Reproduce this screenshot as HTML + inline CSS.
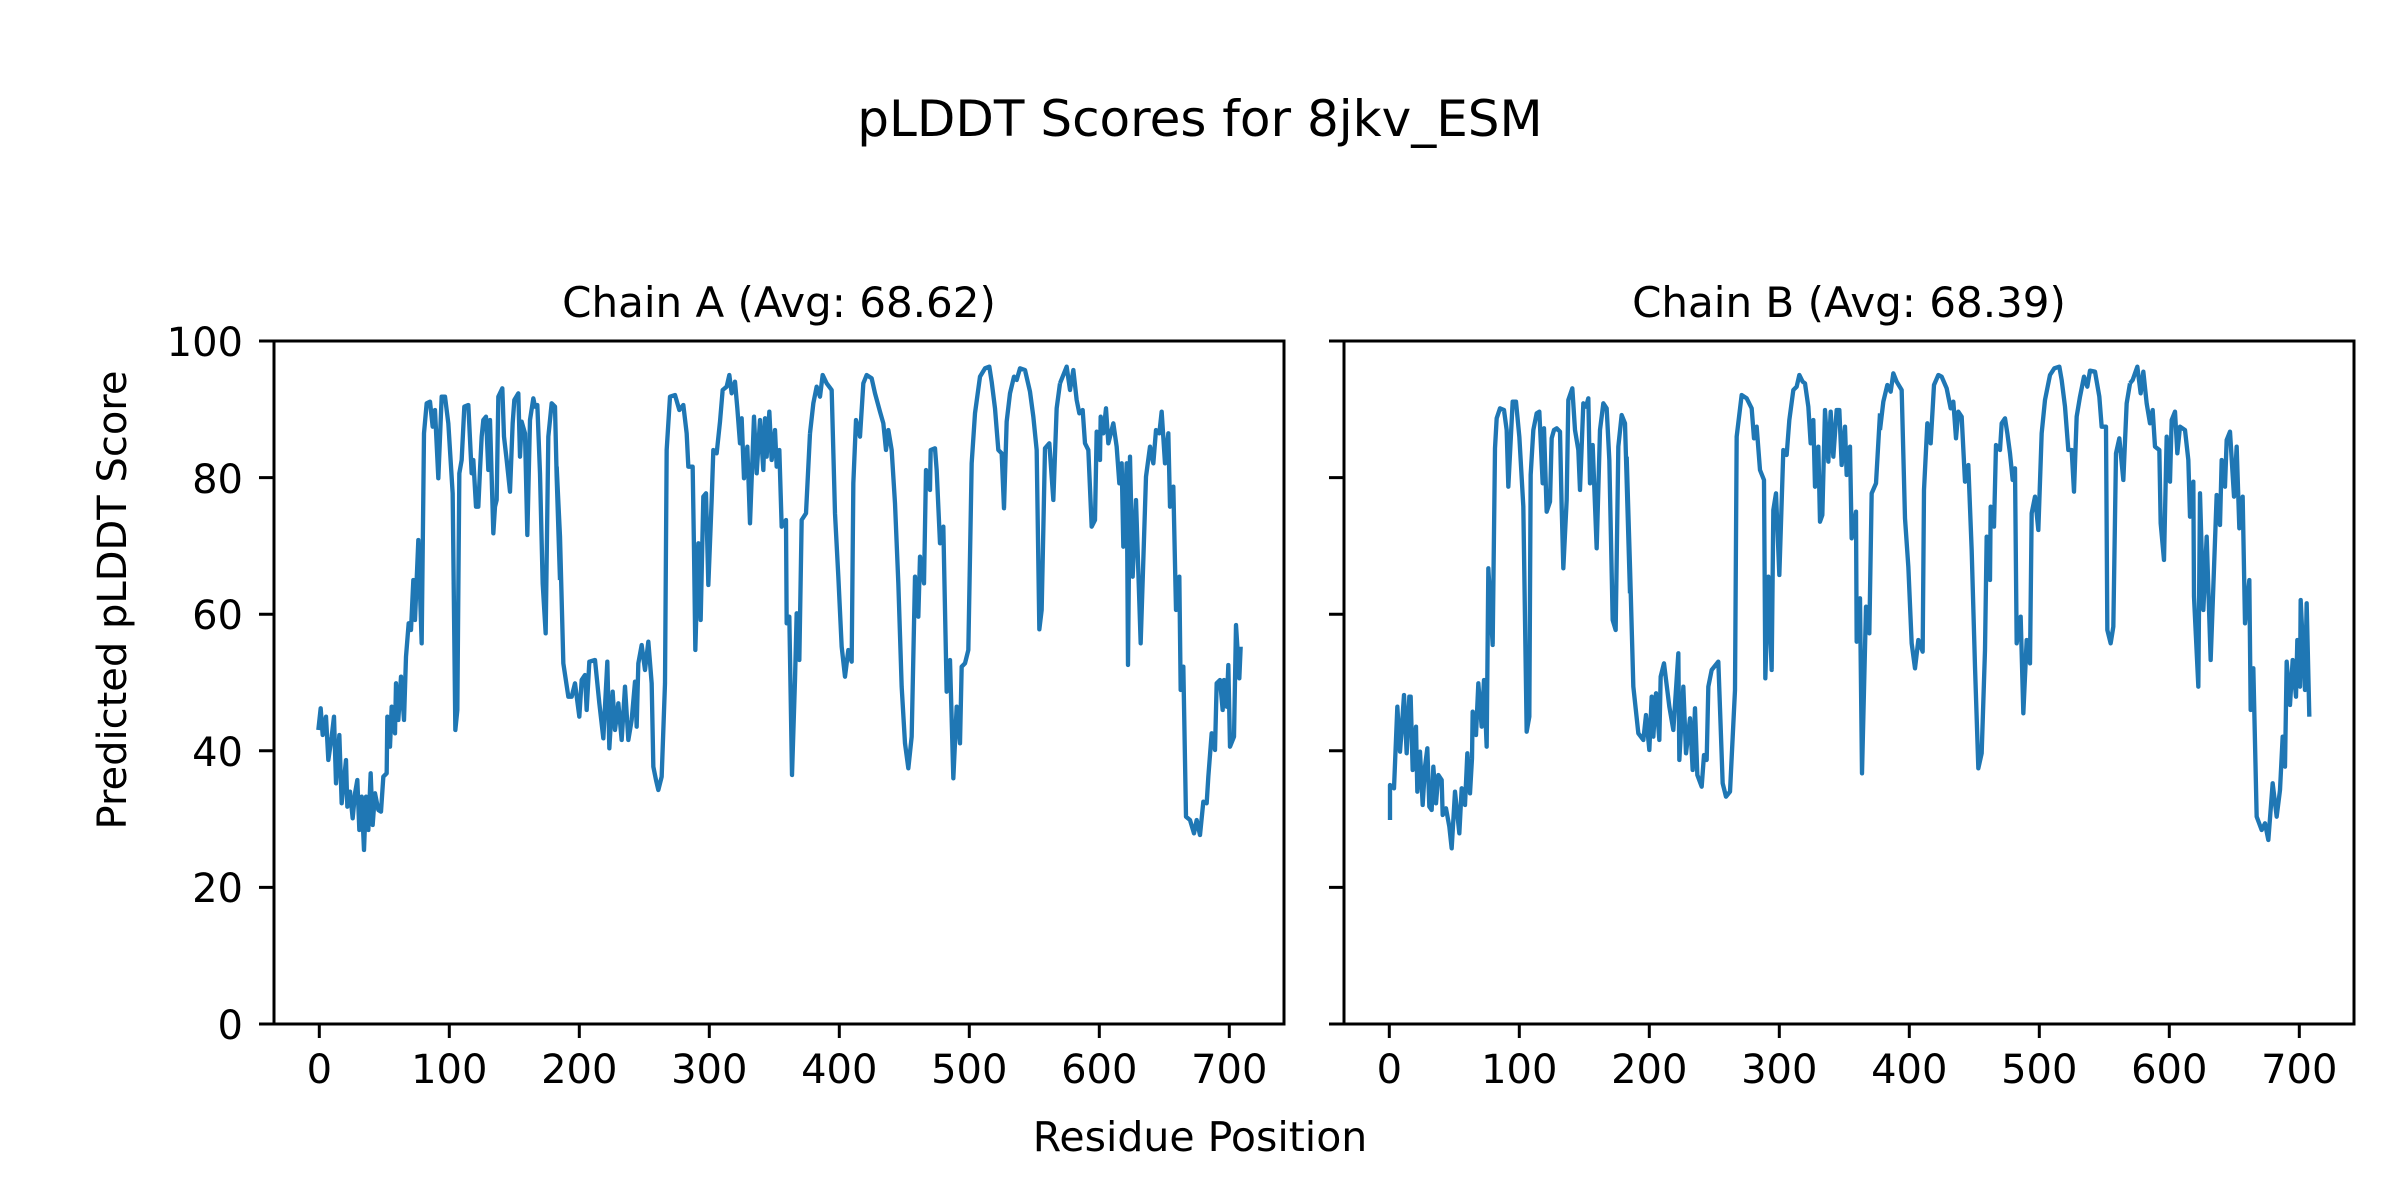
<!DOCTYPE html>
<html><head><meta charset="utf-8"><style>html,body{margin:0;padding:0;background:#fff}svg{display:block}</style></head>
<body>
<svg width="2400" height="1200" viewBox="0 0 2400 1200" xmlns="http://www.w3.org/2000/svg" font-family="DejaVu Sans, Liberation Sans, sans-serif">
<rect width="2400" height="1200" fill="#fff"/>
<text x="1200" y="136" font-size="50" text-anchor="middle">pLDDT Scores for 8jkv_ESM</text>
<text x="779" y="317" font-size="42" text-anchor="middle">Chain A (Avg: 68.62)</text>
<text x="1849" y="317" font-size="42" text-anchor="middle">Chain B (Avg: 68.39)</text>
<text x="1200" y="1151" font-size="41" text-anchor="middle">Residue Position</text>
<text transform="translate(126,600) rotate(-90)" font-size="40" text-anchor="middle">Predicted pLDDT Score</text>

<g stroke="#000" stroke-width="3" fill="none">
<rect x="274" y="341" width="1010" height="683"/>
<rect x="1344" y="341" width="1010" height="683"/>
<path d="M259 1024H274M259 887.4H274M259 750.8H274M259 614.2H274M259 477.6H274M259 341H274"/>
<path d="M1329 1024H1344M1329 887.4H1344M1329 750.8H1344M1329 614.2H1344M1329 477.6H1344M1329 341H1344"/>
<path d="M319.3 1024v14M449.3 1024v14M579.3 1024v14M709.3 1024v14M839.3 1024v14M969.3 1024v14M1099.3 1024v14M1229.3 1024v14"/>
<path d="M1389.3 1024v14M1519.3 1024v14M1649.3 1024v14M1779.3 1024v14M1909.3 1024v14M2039.3 1024v14M2169.3 1024v14M2299.3 1024v14"/>
</g>
<g font-size="40" text-anchor="end">
<text x="243" y="1039">0</text><text x="243" y="902">20</text><text x="243" y="766">40</text><text x="243" y="629">60</text><text x="243" y="493">80</text><text x="243" y="356">100</text>
</g>
<g font-size="40" text-anchor="middle">
<text x="319.3" y="1083">0</text><text x="449.3" y="1083">100</text><text x="579.3" y="1083">200</text><text x="709.3" y="1083">300</text><text x="839.3" y="1083">400</text><text x="969.3" y="1083">500</text><text x="1099.3" y="1083">600</text><text x="1229.3" y="1083">700</text>
<text x="1389.3" y="1083">0</text><text x="1519.3" y="1083">100</text><text x="1649.3" y="1083">200</text><text x="1779.3" y="1083">300</text><text x="1909.3" y="1083">400</text><text x="2039.3" y="1083">500</text><text x="2169.3" y="1083">600</text><text x="2299.3" y="1083">700</text>
</g>

<g fill="none" stroke="#1f77b4" stroke-width="13" stroke-linejoin="round">
<polyline transform="translate(300,350) scale(0.33333)" points="55,1140 62,1075 68,1155 78,1100 85,1230 95,1160 102,1100 108,1300 118,1155 125,1360 138,1230 142,1370 150,1325 158,1405 165,1330 172,1290 178,1440 185,1340 192,1500 198,1340 205,1440 212,1270 218,1425 225,1330 235,1380 243,1385 250,1280 260,1270 262,1100 270,1190 275,1070 285,1150 288,1000 295,1110 303,980 312,1110 318,920 326,820 333,840 340,690 345,810 355,570 365,880 372,250 380,160 390,155 398,230 405,180 415,385 425,140 435,140 445,220 458,430 466,1140 472,1080 478,370 485,330 493,170 505,165 515,370 520,330 528,470 535,470 540,360 545,260 550,210 558,200 565,360 570,210 580,550 585,470 590,450 595,140 607,115 612,260 620,330 630,425 638,220 643,150 655,130 660,320 665,215 675,250 682,555 690,210 700,145 705,170 712,165 720,370 728,700 737,850 745,260 755,160 765,170 770,380 780,690"/>
<polyline transform="translate(550,350) scale(0.33333)" points="20,350 30,560 40,940 55,1040 65,1040 75,1000 88,1100 95,990 105,975 110,1080 118,935 135,930 148,1060 160,1165 172,935 178,1195 188,1025 195,1140 205,1060 215,1170 225,1010 235,1170 245,1110 255,995 260,1130 265,940 275,885 285,960 295,875 305,1000 310,1250 318,1290 325,1320 335,1280 345,1000 350,300 360,140 375,135 388,180 400,165 410,250 415,350 428,350 432,600 436,900 445,580 452,810 460,440 468,430 475,705 485,450 490,300 500,310 510,215 518,120 530,110 538,75 545,130 555,95 562,175 570,280 575,205 582,385 592,290 600,520 612,200 620,370 630,210 640,360 645,205 650,320 658,185 665,330 675,240 680,350 688,300 695,530 708,510 710,820 718,800 726,1275 735,990 740,790 748,930 755,510 768,490 780,250"/>
<polyline transform="translate(800,350) scale(0.33333)" points="30,250 40,160 50,110 60,140 68,75 80,100 95,120 105,490 115,680 125,890 135,980 145,900 155,935 160,400 168,210 180,260 190,100 200,75 215,85 225,130 240,185 250,220 258,300 265,240 275,300 285,460 295,700 305,1010 315,1180 325,1255 335,1160 345,680 355,800 360,620 372,700 378,360 390,420 392,300 405,295 410,360 420,580 430,530 440,1025 450,930 460,1285 470,1070 480,1180 485,950 495,940 505,900 515,340 525,190 540,80 555,55 568,50 575,95 585,175 595,300 605,310 612,475 620,215 630,130 642,80 650,90 660,55 675,60 690,125 700,200 710,300 718,838 725,780 735,295 748,280 760,450 770,175 780,100"/>
<polyline transform="translate(1050,350) scale(0.33333)" points="30,100 38,80 50,50 60,120 70,60 80,150 88,190 98,180 105,280 115,300 125,530 135,510 140,245 150,330 152,200 160,250 168,175 175,280 190,220 200,290 208,400 215,340 220,590 230,340 234,945 240,320 248,680 258,450 272,880 288,380 300,290 310,340 318,240 328,250 335,185 345,340 355,250 360,470 370,410 378,780 388,680 392,1020 400,950 408,1400 420,1410 432,1450 440,1410 450,1455 460,1355 470,1360 475,1280 485,1150 495,1200 500,1000 510,990 518,1080 522,990 530,1070 535,945 540,1190 552,1160 558,825 568,985 572,890"/>

<polyline transform="translate(1370,350) scale(0.33333)" points="60,1410 60,1305 72,1315 82,1070 90,1205 95,1140 102,1035 110,1210 118,1040 122,1040 128,1260 138,1130 142,1325 150,1205 158,1365 165,1250 172,1195 178,1370 185,1380 190,1250 198,1360 205,1275 215,1290 218,1395 228,1375 238,1430 245,1495 255,1325 268,1450 275,1315 285,1365 292,1210 300,1330 306,1225 308,1085 318,1155 325,1000 335,1130 342,990 350,1190 355,655 368,885 375,295 380,205 390,175 402,180 410,240 415,410 428,155 438,155 448,260 460,470 470,1145 478,1100 482,375 490,240 500,190 508,185 518,400 522,235 530,485 540,455 545,265 552,240 560,235 570,245 575,470 580,655 590,450 595,150 607,115 615,240 625,300 630,420 640,160 648,170 655,145 660,400 668,285 680,595 690,240 700,160 710,175 718,330 728,810 737,840 745,290 755,195 765,220 772,460 780,730"/>
<polyline transform="translate(1620,350) scale(0.33333)" points="20,320 30,650 40,1010 55,1150 70,1170 78,1095 88,1200 95,1040 100,1160 108,1030 118,1170 122,980 132,940 148,1070 160,1140 175,910 178,1230 190,1010 198,1210 210,1105 218,1260 225,1075 232,1275 245,1310 252,1215 260,1230 265,1010 275,960 295,935 300,1075 308,1300 318,1340 330,1325 345,1020 350,260 365,135 380,145 395,175 402,265 410,230 420,360 432,390 436,985 445,680 455,960 460,480 468,430 478,675 490,300 500,315 508,210 520,120 530,110 538,75 548,95 555,100 565,170 572,280 580,210 585,410 595,290 600,515 607,495 615,180 625,335 632,185 640,320 650,180 658,180 665,345 675,230 680,375 690,290 695,565 708,485 710,875 720,745 726,1270 738,770 748,850 755,430 768,400 780,190"/>
<polyline transform="translate(1870,350) scale(0.33333)" points="30,240 40,155 52,105 62,125 70,70 80,95 95,120 105,505 115,650 125,880 135,955 145,870 158,905 162,420 172,220 182,280 192,105 205,75 215,80 230,115 242,175 250,155 258,265 265,185 275,200 285,395 295,345 305,600 315,950 325,1255 335,1210 345,900 350,560 360,690 362,470 372,530 378,285 390,300 395,220 405,205 412,250 420,310 428,390 435,355 440,880 452,800 460,1090 470,870 480,940 485,490 495,440 505,540 515,250 525,150 540,75 553,55 568,50 575,90 585,170 595,300 605,300 612,425 620,200 630,140 642,80 652,110 660,62 675,65 688,140 695,230 708,230 712,840 722,880 730,830 738,310 748,265 760,390 770,160 780,100"/>
<polyline transform="translate(2120,350) scale(0.33333)" points="30,100 38,90 52,50 62,130 70,65 80,160 90,220 98,180 105,290 118,300 122,520 132,630 140,260 150,395 155,210 165,185 172,310 180,230 195,240 205,330 210,500 220,395 222,740 235,1010 240,430 250,780 260,560 272,930 290,435 300,525 305,330 315,410 320,270 330,245 342,440 350,290 358,535 368,440 375,820 388,690 392,1080 400,955 410,1400 425,1440 435,1420 445,1470 458,1300 470,1400 480,1320 488,1160 495,1250 500,935 510,1065 518,930 528,1040 532,870 540,1010 542,750 555,1020 560,760 568,1100"/>
</g>
</svg>
</body></html>
